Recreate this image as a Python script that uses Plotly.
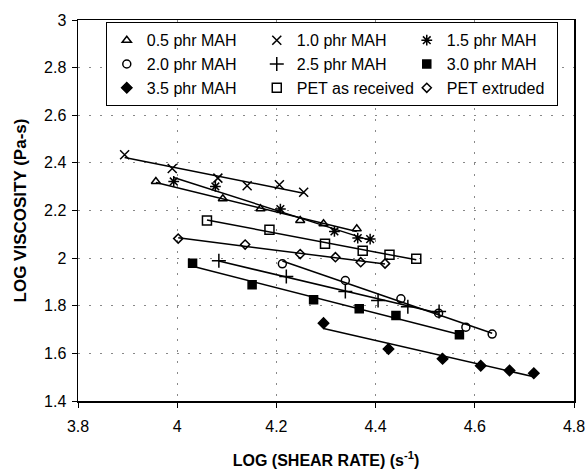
import numpy as np
import plotly.graph_objects as go

# ---- data (log shear rate, log viscosity) ----
names = ["0.5 phr MAH", "1.0 phr MAH", "1.5 phr MAH",
         "2.0 phr MAH", "2.5 phr MAH", "3.0 phr MAH",
         "3.5 phr MAH", "PET as received", "PET extruded"]

x_05 = [3.957, 4.092, 4.168, 4.248, 4.295, 4.362]
y_05 = [2.322, 2.249, 2.207, 2.158, 2.144, 2.123]
x_10 = [3.894, 3.990, 4.082, 4.141, 4.206, 4.255]
y_10 = [2.434, 2.376, 2.336, 2.304, 2.308, 2.277]
x_15 = [3.993, 4.077, 4.208, 4.317, 4.364, 4.389]
y_15 = [2.322, 2.301, 2.206, 2.112, 2.084, 2.080]
x_20 = [4.212, 4.339, 4.451, 4.527, 4.582, 4.635]
y_20 = [1.976, 1.906, 1.829, 1.769, 1.710, 1.681]
x_25 = [4.084, 4.220, 4.339, 4.405, 4.465, 4.528]
y_25 = [1.989, 1.923, 1.860, 1.822, 1.796, 1.776]
x_30 = [4.031, 4.151, 4.275, 4.367, 4.441, 4.569]
y_30 = [1.979, 1.888, 1.825, 1.787, 1.759, 1.678]
x_35 = [4.295, 4.426, 4.535, 4.612, 4.670, 4.719]
y_35 = [1.727, 1.618, 1.577, 1.548, 1.528, 1.517]
x_pet_rec = [4.060, 4.186, 4.298, 4.374, 4.428, 4.482]
y_pet_rec = [2.158, 2.119, 2.060, 2.031, 2.014, 1.997]
x_pet_ext = [4.002, 4.137, 4.248, 4.319, 4.370, 4.419]
y_pet_ext = [2.082, 2.057, 2.017, 2.004, 1.983, 1.977]

xs = [x_05, x_10, x_15, x_20, x_25, x_30, x_35, x_pet_rec, x_pet_ext]
ys = [y_05, y_10, y_15, y_20, y_25, y_30, y_35, y_pet_rec, y_pet_ext]

x_ticks = [3.8, 4.0, 4.2, 4.4, 4.6, 4.8]
x_tick_labels = ["3.8", "4", "4.2", "4.4", "4.6", "4.8"]
y_ticks = [1.4, 1.6, 1.8, 2.0, 2.2, 2.4, 2.6, 2.8, 3.0]
y_tick_labels = ["1.4", "1.6", "1.8", "2", "2.2", "2.4", "2.6", "2.8", "3"]

symbols = ["triangle-up-open", "x-thin-open", "asterisk-open",
           "circle-open", "cross-thin-open", "square",
           "diamond", "square-open", "diamond-open"]
sizes = [8, 9, 9, 8, 10, 8, 8, 9, 7]

FONT = "Liberation Sans, Arial, sans-serif"
fig = go.Figure()

# linear trendlines (one per series, not in legend)
for x, y in zip(xs, ys):
    k, b = np.polyfit(x, y, 1)
    xe = np.array([min(x), max(x)])
    fig.add_trace(go.Scatter(x=xe, y=k * xe + b, mode="lines",
                             line=dict(color="black", width=1.5),
                             showlegend=False, hoverinfo="skip"))

for name, x, y, s, sz in zip(names, xs, ys, symbols, sizes):
    fig.add_trace(go.Scatter(
        x=x, y=y, mode="markers", name=name,
        marker=dict(symbol=s, size=sz, color="black",
                    line=dict(color="black", width=1.5))))

fig.update_layout(
    width=588, height=469,
    margin=dict(l=78, r=14, t=20, b=68, autoexpand=False),
    paper_bgcolor="white", plot_bgcolor="white",
    font=dict(family=FONT, size=16, color="black"),
    legend=dict(orientation="h", x=0.056, y=0.994,
                xanchor="left", yanchor="top",
                bgcolor="white", bordercolor="black", borderwidth=1,
                entrywidth=105, entrywidthmode="pixels",
                itemwidth=30, tracegroupgap=0,
                font=dict(family=FONT, size=16, color="black")),
    xaxis=dict(range=[3.8, 4.8], tickvals=x_ticks, ticktext=x_tick_labels,
               automargin=False,
               showline=True, linecolor="black", linewidth=1.5, mirror=True,
               ticks="outside", ticklen=5, tickcolor="black",
               ticklabelstandoff=5,
               showgrid=True, gridcolor="#888", gridwidth=1, griddash="2px,9px",
               zeroline=False,
               title=dict(text="<b>LOG (SHEAR RATE) (s<sup>-1</sup>)</b>",
                          font=dict(family=FONT, size=16), standoff=24)),
    yaxis=dict(range=[1.4, 3.0], tickvals=y_ticks, ticktext=y_tick_labels,
               automargin=False,
               showline=True, linecolor="black", linewidth=1.5, mirror=True,
               ticks="outside", ticklen=5, tickcolor="black",
               ticklabelstandoff=2,
               showgrid=True, gridcolor="#888", gridwidth=1, griddash="2px,9px",
               zeroline=False,
               title=dict(text="<b>LOG VISCOSITY (Pa-s)</b>",
                          font=dict(family=FONT, size=17), standoff=13)),
)

# remove the browser's default 8px body margin so the figure fills the window
fig.write_html("out.html",
               config={"displayModeBar": False, "staticPlot": True},
               post_script="document.body.style.margin='0';"
                           "document.body.style.overflow='hidden';")
